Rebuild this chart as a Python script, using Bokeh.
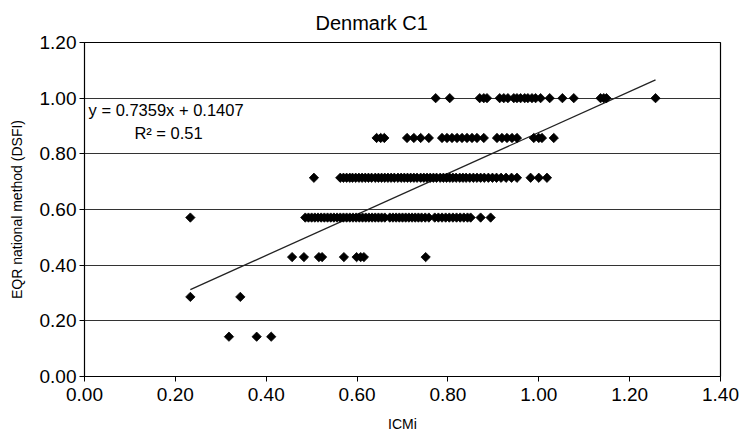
import math
from bokeh.plotting import figure
from bokeh.models import Label, FixedTicker, PrintfTickFormatter, ColumnDataSource
from bokeh.embed import file_html
from bokeh.resources import INLINE

# DSFI levels (EQR national method) and the ICMi values observed at each level
dsfi_levels = [1.0, 0.857, 0.714, 0.571, 0.429, 0.286, 0.143]

icmi_100 = [0.773, 0.804, 0.870, 0.879, 0.886, 0.914, 0.923, 0.932, 0.945, 0.952,
            0.960, 0.969, 0.976, 0.985, 0.993, 1.004, 1.024, 1.052, 1.077, 1.136,
            1.143, 1.149, 1.257]
icmi_086 = [0.643, 0.652, 0.660, 0.710, 0.725, 0.740, 0.758, 0.787, 0.798, 0.809,
            0.820, 0.831, 0.842, 0.853, 0.864, 0.879, 0.908, 0.919, 0.930, 0.941,
            0.952, 0.989, 1.000, 1.007, 1.033]
icmi_071 = [0.505, 0.563, 0.570, 0.577, 0.584, 0.590, 0.597, 0.604, 0.611, 0.618,
            0.625, 0.632, 0.640, 0.647, 0.654, 0.661, 0.668, 0.675, 0.682, 0.690,
            0.697, 0.704, 0.711, 0.718, 0.725, 0.732, 0.740, 0.747, 0.754, 0.761,
            0.768, 0.775, 0.783, 0.790, 0.797, 0.804, 0.811, 0.818, 0.826, 0.833,
            0.840, 0.848, 0.856, 0.864, 0.872, 0.880, 0.889, 0.898, 0.907, 0.917,
            0.928, 0.940, 0.952, 0.982, 1.000, 1.018]
icmi_057 = [0.233, 0.486, 0.493, 0.500, 0.507, 0.514, 0.521, 0.528, 0.535, 0.542,
            0.549, 0.556, 0.563, 0.570, 0.577, 0.584, 0.591, 0.598, 0.605, 0.612,
            0.619, 0.626, 0.633, 0.640, 0.647, 0.654, 0.661, 0.672, 0.679, 0.686,
            0.693, 0.700, 0.707, 0.714, 0.721, 0.728, 0.735, 0.742, 0.750, 0.758,
            0.771, 0.779, 0.787, 0.795, 0.803, 0.811, 0.819, 0.827, 0.835, 0.843,
            0.850, 0.872, 0.894]
icmi_043 = [0.457, 0.483, 0.516, 0.523, 0.571, 0.599, 0.608, 0.615, 0.751]
icmi_029 = [0.233, 0.343]
icmi_014 = [0.318, 0.379, 0.411]

# Linear trend line
slope = 0.7359
intercept = 0.1407
equation_text = "y = 0.7359x + 0.1407"
r2_text = "R\u00b2 = 0.51"

x_ticks = [0.0, 0.2, 0.4, 0.6, 0.8, 1.0, 1.2, 1.4]
y_ticks = [0.0, 0.2, 0.4, 0.6, 0.8, 1.0, 1.2]

rows = [icmi_100, icmi_086, icmi_071, icmi_057, icmi_043, icmi_029, icmi_014]
xs, ys = [], []
for lvl, row in zip(dsfi_levels, rows):
    xs.extend(row)
    ys.extend([lvl] * len(row))
src = ColumnDataSource(dict(x=xs, y=ys))

FONT = "Liberation Sans"

p = figure(width=739, height=435, x_range=(0, 1.4), y_range=(0, 1.2),
           output_backend="svg", toolbar_location=None,
           min_border_left=84, min_border_right=19, min_border_top=42,
           min_border_bottom=59, title="Denmark C1")
p.background_fill_color = "white"
p.border_fill_color = "white"
p.outline_line_color = "black"
p.outline_line_width = 1.2

p.title.align = "left"
p.title.offset = 231
p.title.standoff = 17
p.title.text_font = FONT
p.title.text_font_size = "20px"
p.title.text_font_style = "normal"
p.title.text_color = "black"

p.xaxis.ticker = FixedTicker(ticks=x_ticks)
p.yaxis.ticker = FixedTicker(ticks=y_ticks)
p.xaxis.formatter = PrintfTickFormatter(format="%.2f")
p.yaxis.formatter = PrintfTickFormatter(format="%.2f")
for ax in (p.xaxis, p.yaxis):
    ax.major_label_text_font = FONT
    ax.major_label_text_font_size = "19px"
    ax.major_label_text_color = "black"
    ax.axis_label_text_font = FONT
    ax.axis_label_text_font_size = "14px"
    ax.axis_label_text_font_style = "normal"
    ax.axis_label_text_color = "black"
    ax.axis_line_color = "black"
    ax.major_tick_line_color = "black"
    ax.minor_tick_line_color = None
    ax.major_tick_in = 0
    ax.major_tick_out = 5
p.xaxis.axis_label = "ICMi"
p.yaxis.axis_label = "EQR national method (DSFI)"
p.xaxis.major_label_standoff = 6
p.yaxis.major_label_standoff = 3
p.xaxis.axis_label_standoff = 12
p.yaxis.axis_label_standoff = 12

p.xgrid.visible = False
p.ygrid.ticker = FixedTicker(ticks=y_ticks)
p.ygrid.grid_line_color = "#333333"
p.ygrid.grid_line_width = 1

# trend line over the observed ICMi range
x0, x1 = min(xs), max(xs)
p.line([x0, x1], [slope * x0 + intercept, slope * x1 + intercept],
       line_color="#222222", line_width=1.3)

p.scatter("x", "y", source=src, marker="square", size=6.6, angle=math.pi / 4,
          fill_color="black", line_color="black", line_width=0.8)

p.add_layout(Label(x=0.009, y=0.99, text=equation_text, text_font=FONT,
                   text_font_size="16.5px", text_baseline="top", text_align="left",
                   text_color="black"))
p.add_layout(Label(x=0.185, y=0.876, text=r2_text, text_font=FONT,
                   text_font_size="16.5px", text_baseline="middle", text_align="center",
                   text_color="black"))

open("out.html", "w").write(file_html(p, INLINE))
